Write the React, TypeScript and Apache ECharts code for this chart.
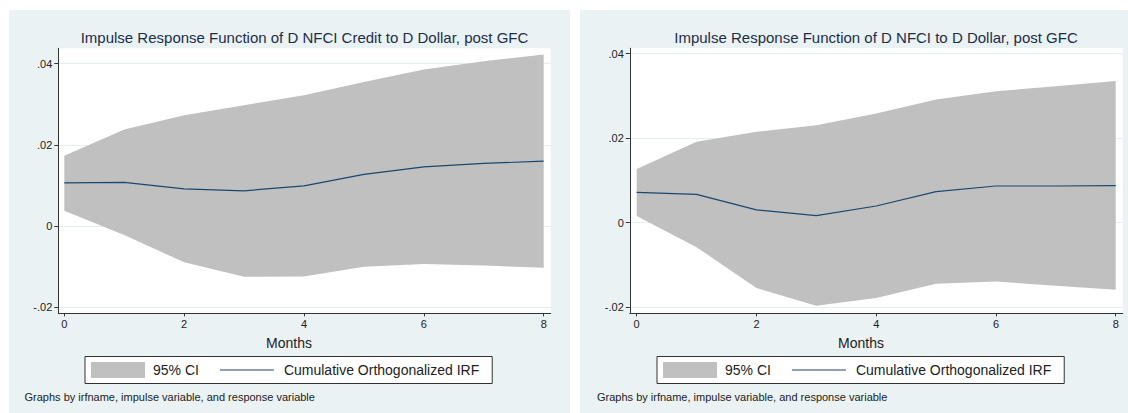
import { useEffect, useRef } from "react";
import * as echarts from "echarts";

// ---------- data ----------
const months = [0, 1, 2, 3, 4, 5, 6, 7, 8];
const xTickValues = [0, 2, 4, 6, 8];
const yTickValues = [-0.02, 0, 0.02, 0.04];
const yTickLabels = ["-.02", "0", ".02", ".04"];

const creditTitle = "Impulse Response Function of D NFCI Credit to D Dollar, post GFC";
const creditIrf = [0.01065, 0.01075, 0.00917, 0.00868, 0.00991, 0.01271, 0.01458, 0.01542, 0.01598];
const creditLower = [0.00376, -0.00221, -0.00893, -0.01247, -0.01245, -0.01001, -0.00934, -0.00971, -0.01025];
const creditUpper = [0.01729, 0.02378, 0.0273, 0.02976, 0.03221, 0.03549, 0.03853, 0.04058, 0.04222];

const nfciTitle = "Impulse Response Function of D NFCI to D Dollar, post GFC";
const nfciIrf = [0.00716, 0.00668, 0.00298, 0.00163, 0.00392, 0.0073, 0.00865, 0.00865, 0.00872];
const nfciLower = [0.00156, -0.00583, -0.01552, -0.0197, -0.01788, -0.0145, -0.01396, -0.01497, -0.01592];
const nfciUpper = [0.01266, 0.01911, 0.02147, 0.02305, 0.02582, 0.02912, 0.03109, 0.03227, 0.03352];

const ciName = "95% CI";
const irfName = "Cumulative Orthogonalized IRF";
const xAxisTitle = "Months";
const noteText = "Graphs by irfname, impulse variable, and response variable";

// ---------- styles ----------
const FONT = "'Liberation Sans', Arial, Helvetica, sans-serif";
const PANEL_BG = "#eaf2f3";
const GRID_LINE = "#e4edef";
const CI_COLOR = "#c0c0c0";
const LINE_COLOR = "#1a476f";
const AXIS_COLOR = "#333333";
const TEXT_COLOR = "#222222";
const TITLE_COLOR = "#1c2e4a";
const LINE_ICON = "path://M0,0 H54 V1.2 H0 Z";

type PanelLayout = {
  gridLeft: number;
  gridWidth: number;
  xMin: number;
  xMax: number;
  yMin: number;
  yMax: number;
  panelX: number;
  panelW: number;
  centerX: number;
  titleX: number;
  legendLeft: number;
  noteX: number;
};

const leftLayout: PanelLayout = {
  gridLeft: 58.3,
  gridWidth: 492.4,
  xMin: -0.1,
  xMax: 8.117,
  yMin: -0.02148,
  yMax: 0.04376,
  panelX: 9,
  panelW: 561,
  centerX: 289,
  titleX: 304.5,
  legendLeft: 85,
  noteX: 24.5,
};

const rightLayout: PanelLayout = {
  gridLeft: 629.8,
  gridWidth: 492.9,
  xMin: -0.115,
  xMax: 8.117,
  yMin: -0.02149,
  yMax: 0.04125,
  panelX: 580,
  panelW: 548,
  centerX: 861,
  titleX: 876,
  legendLeft: 657,
  noteX: 597,
};

const GRID_TOP = 48.3;
const GRID_HEIGHT = 265;

function yLabel(v: number): string {
  const i = yTickValues.findIndex((t) => Math.abs(t - v) < 1e-9);
  return i >= 0 ? yTickLabels[i] : "";
}

function buildOption() {
  const layouts = [leftLayout, rightLayout];
  const panels = [
    { title: creditTitle, irf: creditIrf, lower: creditLower, upper: creditUpper },
    { title: nfciTitle, irf: nfciIrf, lower: nfciLower, upper: nfciUpper },
  ];

  const grid: any[] = [];
  const xAxis: any[] = [];
  const yAxis: any[] = [];
  const series: any[] = [];
  const legend: any[] = [];
  const graphicEls: any[] = [];

  layouts.forEach((L, idx) => {
    const P = panels[idx];
    grid.push({
      left: L.gridLeft,
      top: GRID_TOP,
      width: L.gridWidth,
      height: GRID_HEIGHT,
      show: true,
      backgroundColor: "#ffffff",
      borderWidth: 0,
      containLabel: false,
    });
    xAxis.push({
      type: "value",
      gridIndex: idx,
      min: L.xMin,
      max: L.xMax,
      axisLine: { show: true, onZero: false, lineStyle: { color: AXIS_COLOR, width: 1 } },
      axisTick: { show: true, length: 3, customValues: xTickValues, lineStyle: { color: AXIS_COLOR } },
      axisLabel: {
        customValues: xTickValues,
        fontSize: 11,
        color: TEXT_COLOR,
        margin: 5,
        fontFamily: FONT,
      },
      splitLine: { show: false },
    });
    yAxis.push({
      type: "value",
      gridIndex: idx,
      min: L.yMin,
      max: L.yMax,
      axisLine: { show: true, onZero: false, lineStyle: { color: AXIS_COLOR, width: 1 } },
      axisTick: { show: true, length: 4, customValues: yTickValues, lineStyle: { color: AXIS_COLOR } },
      axisLabel: {
        customValues: yTickValues,
        formatter: yLabel,
        fontSize: 11,
        color: TEXT_COLOR,
        margin: 6,
        fontFamily: FONT,
      },
      splitLine: { show: true, lineStyle: { color: GRID_LINE, width: 1 } },
    });

    const lower = P.lower;
    const upper = P.upper;
    series.push({
      name: ciName,
      type: "custom",
      xAxisIndex: idx,
      yAxisIndex: idx,
      z: 2,
      itemStyle: { color: CI_COLOR },
      data: months.map((m, i) => [m, lower[i], upper[i]]),
      encode: { x: 0, y: [1, 2] },
      renderItem: (params: any, api: any) => {
        if (params.dataIndex !== 0) return null;
        const pts: number[][] = [];
        for (let i = 0; i < months.length; i++) pts.push(api.coord([months[i], upper[i]]));
        for (let i = months.length - 1; i >= 0; i--) pts.push(api.coord([months[i], lower[i]]));
        return { type: "polygon", shape: { points: pts }, style: { fill: CI_COLOR } };
      },
    });
    series.push({
      name: irfName,
      type: "line",
      xAxisIndex: idx,
      yAxisIndex: idx,
      z: 3,
      symbol: "none",
      showSymbol: false,
      lineStyle: { color: LINE_COLOR, width: 1.2 },
      itemStyle: { color: LINE_COLOR },
      data: months.map((m, i) => [m, P.irf[i]]),
    });

    legend.push({
      left: L.legendLeft,
      top: 356.5,
      orient: "horizontal",
      padding: [5.5, 13, 5.5, 6],
      itemGap: 21,
      itemWidth: 54,
      itemHeight: 16,
      borderColor: AXIS_COLOR,
      borderWidth: 1,
      borderRadius: 0,
      backgroundColor: "#ffffff",
      selectedMode: false,
      textStyle: { fontSize: 14, color: TEXT_COLOR, fontFamily: FONT, lineHeight: 16 },
      data: [
        { name: ciName, icon: "rect", itemStyle: { color: CI_COLOR }, textStyle: { padding: [0, 0, 0, 3] } },
        {
          name: irfName,
          icon: LINE_ICON,
          itemStyle: { color: LINE_COLOR, borderWidth: 0 },
          lineStyle: { width: 0 },
          textStyle: { padding: [0, 0, 0, 5] },
        },
      ],
    });

    graphicEls.push({
      type: "rect",
      z: -10,
      silent: true,
      shape: { x: L.panelX, y: 10, width: L.panelW, height: 403 },
      style: { fill: PANEL_BG },
    });
    graphicEls.push({
      type: "text",
      z: 10,
      silent: true,
      x: L.titleX,
      y: 37.5,
      style: {
        text: P.title,
        textAlign: "center",
        textVerticalAlign: "middle",
        fontSize: 15,
        fontFamily: FONT,
        fill: TITLE_COLOR,
      },
    });
    graphicEls.push({
      type: "text",
      z: 10,
      silent: true,
      x: L.centerX,
      y: 343,
      style: {
        text: xAxisTitle,
        textAlign: "center",
        textVerticalAlign: "middle",
        fontSize: 14,
        fontFamily: FONT,
        fill: TEXT_COLOR,
      },
    });
    graphicEls.push({
      type: "text",
      z: 10,
      silent: true,
      x: L.noteX,
      y: 397,
      style: {
        text: noteText,
        textAlign: "left",
        textVerticalAlign: "middle",
        fontSize: 11,
        fontFamily: FONT,
        fill: TEXT_COLOR,
      },
    });
  });

  return {
    animation: false,
    backgroundColor: "#ffffff",
    grid,
    xAxis,
    yAxis,
    series,
    legend,
    graphic: { elements: graphicEls },
  };
}

export default function App() {
  const ref = useRef<HTMLDivElement>(null);
  useEffect(() => {
    if (!ref.current) return;
    const chart = echarts.init(ref.current, undefined, { renderer: "svg", width: 1128, height: 413 });
    chart.setOption(buildOption() as any);
    return () => chart.dispose();
  }, []);
  return (
    <div
      ref={ref}
      style={{ position: "fixed", left: 0, top: 0, width: 1128, height: 413, background: "#ffffff" }}
    />
  );
}
